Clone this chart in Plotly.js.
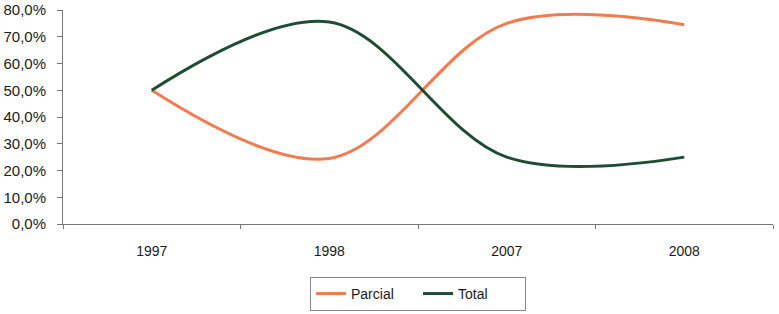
<!DOCTYPE html>
<html>
<head>
<meta charset="utf-8">
<script src="https://cdn.plot.ly/plotly-3.0.1.min.js"></script>
<style>html,body{margin:0;padding:0;background:#fff;}#chart{width:779px;height:314px;}</style>
</head>
<body>
<div id="chart"></div>
<script>
const categories = ['1997', '1998', '2007', '2008'];
const parcial = [50.0, 24.5, 75.0, 74.5];
const total = [50.0, 75.5, 25.0, 25.0];
const yTicks = [0, 10, 20, 30, 40, 50, 60, 70, 80];
const yTickLabels = yTicks.map(v => v.toFixed(1).replace('.', ',') + '%');

const traces = [
  {x: categories, y: parcial, name: 'Parcial', type: 'scatter', mode: 'lines',
   line: {color: '#F47B4E', width: 3, shape: 'spline', smoothing: 1}},
  {x: categories, y: total, name: 'Total', type: 'scatter', mode: 'lines',
   line: {color: '#1E4D33', width: 3, shape: 'spline', smoothing: 1}}
];

const layout = {
  width: 779, height: 314,
  margin: {l: 63, r: 6, t: 10, b: 90},
  paper_bgcolor: '#fff', plot_bgcolor: '#fff',
  separators: ',.',
  font: {family: 'Liberation Sans, Arial, sans-serif', size: 14, color: '#1a1a1a'},
  showlegend: true,
  legend: {orientation: 'h', x: 0.5, xanchor: 'center', xref: 'paper',
           y: 0.118, yanchor: 'top', yref: 'container',
           bordercolor: '#888', borderwidth: 1, font: {size: 14},
           entrywidth: 62, entrywidthmode: 'pixels', tracegroupgap: 0},
  xaxis: {type: 'category', range: [-0.5, 3.5], showgrid: false, zeroline: false,
          showline: true, linecolor: '#777', linewidth: 1,
          ticks: 'outside', ticklen: 4, tickcolor: '#777', tickson: 'boundaries',
          ticklabelstandoff: 14, tickfont: {size: 14}},
  yaxis: {range: [0, 80], tickmode: 'array', tickvals: yTicks, ticktext: yTickLabels,
          showgrid: false, zeroline: false, showline: true, linecolor: '#777', linewidth: 1,
          ticks: 'outside', ticklen: 5, tickcolor: '#777', ticklabelstandoff: 8,
          tickfont: {size: 15}}
};

Plotly.newPlot('chart', traces, layout, {displayModeBar: false, staticPlot: true});
</script>
</body>
</html>
